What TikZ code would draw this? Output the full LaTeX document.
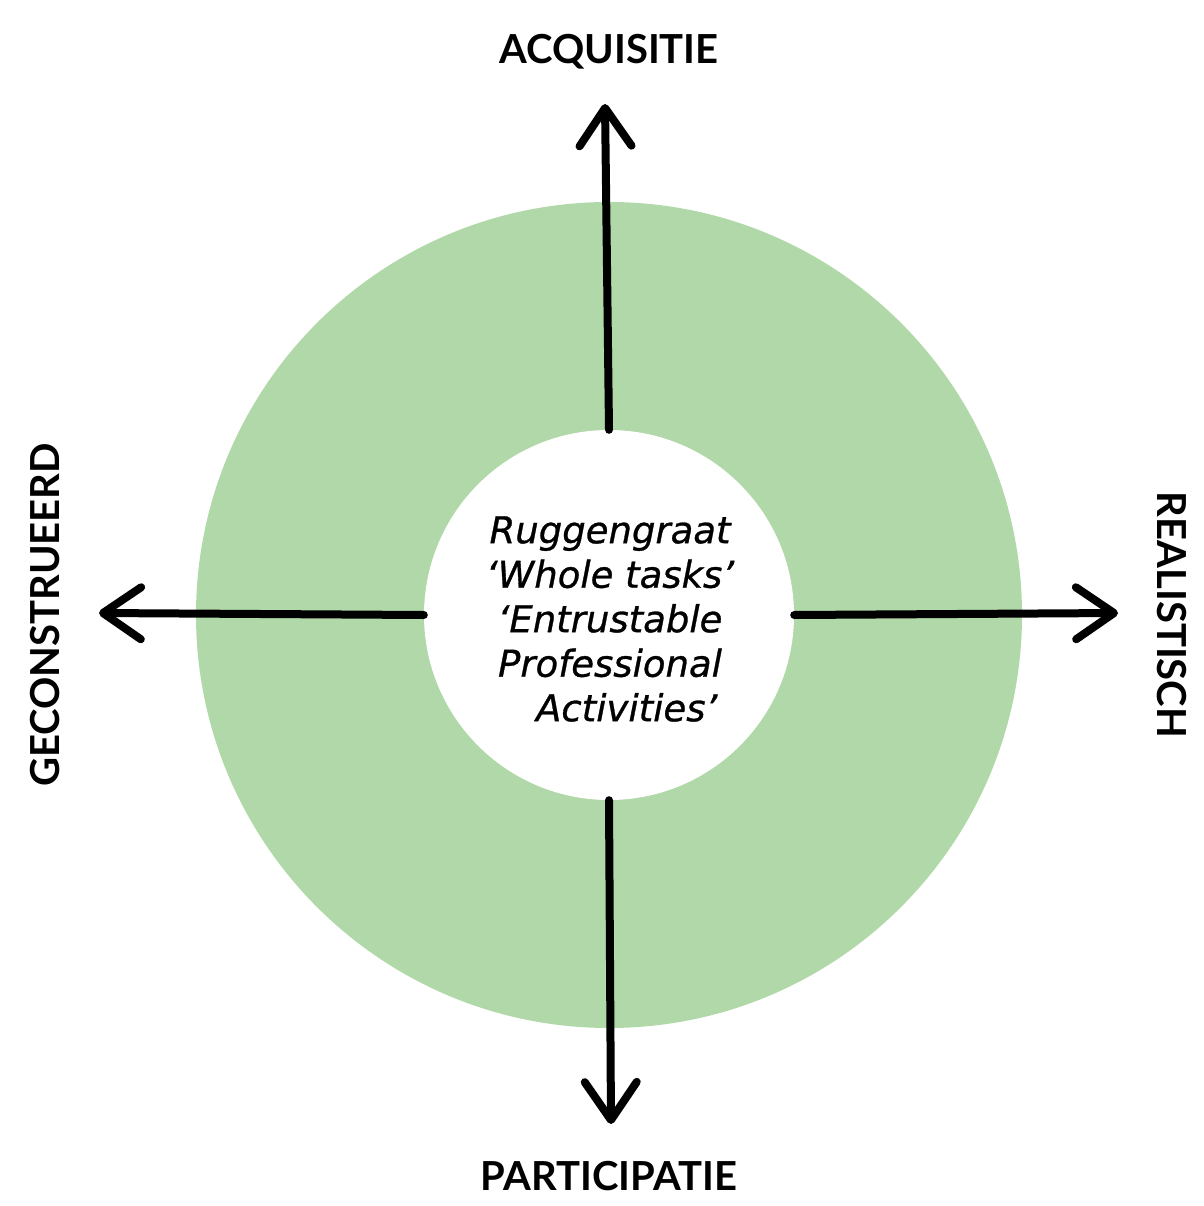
\documentclass[tikz,border=0pt]{standalone}
\usepackage{fontspec}
\usepackage{xcolor}
\usepackage{tikz}
\usetikzlibrary{arrows.meta,positioning}
\newfontfamily\axisfont{Lato}
\newfontfamily\hubfont[FakeBold=0.8]{DejaVu Sans}
\definecolor{ringgreen}{RGB}{177,216,168}

\begin{document}
\begin{tikzpicture}[x=1pt, y=-1pt,
                    axis/.style={line width=8pt, line cap=round,
                      -{Straight Barb[length=38pt,width=52pt,round]}},
                    pole/.style={font=\axisfont\fontsize{40}{40}\selectfont\bfseries},
                    every node/.style={inner sep=0pt}]
   \useasboundingbox (0,0) rectangle (1203,1206);

   \node[circle, fill=ringgreen, minimum size=826pt] (ring) at (609,615) {};
   \node[circle, fill=white, minimum size=370pt] (hub) at (609,615) {};
   \node[align=center, font=\hubfont\itshape\fontsize{37}{44.5}\selectfont]
     (hubtext) at (610,619)
     {Ruggengraat\\ ‘Whole tasks’\\ ‘Entrustable\\ Professional\\ \hspace*{0.9em}Activities’};

   % arrow ends
   \coordinate (up) at (605,104);
   \coordinate (down) at (611,1124);
   \coordinate (left) at (99,613);
   \coordinate (right) at (1118,613);

   \node[pole] (acq) at (609,52) {ACQUISITIE};
   \node[pole] (part) at (609,1176) {PARTICIPATIE};
   \node[pole, rotate=90] (gecon) at (45,615) {GECONSTRUEERD};
   \node[pole, rotate=-90] (real) at (1172,615) {REALISTISCH};

   \draw[axis] (hub.north) -- (up);
   \draw[axis] (hub.south) -- (down);
   \draw[axis] (hub.west) -- (left);
   \draw[axis] (hub.east) -- (right);

\end{tikzpicture}
\end{document}
